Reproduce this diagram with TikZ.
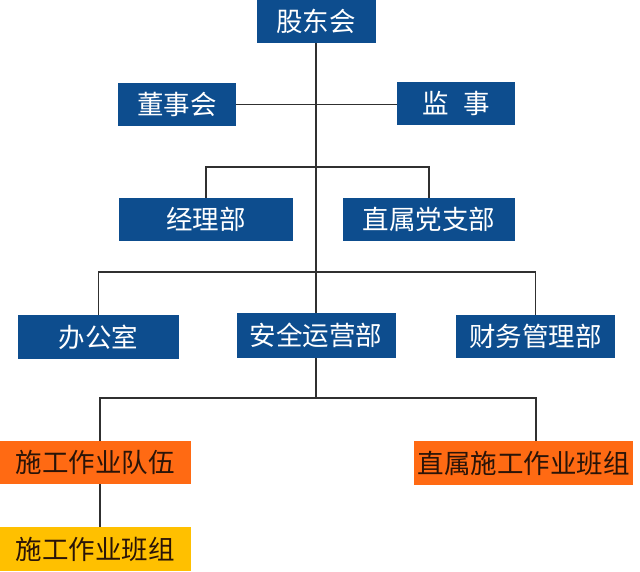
\documentclass[tikz,border=0pt]{standalone}
\usepackage{fontspec}
\newfontfamily\cjk{Noto Sans CJK SC}
\definecolor{boxblue}{HTML}{0D4D8E}
\definecolor{boxorange}{HTML}{FF6A13}
\definecolor{boxyellow}{HTML}{FFC000}
\definecolor{linegray}{HTML}{303030}
\definecolor{darktext}{HTML}{2A1408}
\begin{document}
\begin{tikzpicture}[x=1pt,y=-1pt,
  base/.style={rectangle,inner sep=0pt,minimum height=43pt,font=\cjk\fontsize{26.5}{26.5}\selectfont},
  bluebox/.style={base,fill=boxblue,text=white},
  orangebox/.style={base,fill=boxorange,text=darktext},
  yellowbox/.style={base,fill=boxyellow,text=darktext},
  conn/.style={draw=linegray,line width=1.1pt}]
\useasboundingbox (0,0) rectangle (640,571);
\fill[white] (0,0) rectangle (640,571);
\node[bluebox,minimum width=119pt] (gd) at (316,21.5) {股东会};
\node[bluebox,minimum width=118pt] (dsh) at (177,104.5) {董事会};
\node[bluebox,minimum width=118pt] (js) at (456,103.5) {监\hspace{0.55em}事};
\node[bluebox,minimum width=174pt] (jlb) at (206,219.5) {经理部};
\node[bluebox,minimum width=172pt] (dzb) at (429,219.5) {直属党支部};
\node[bluebox,minimum width=161pt,minimum height=44pt] (bgs) at (98.5,337) {办公室};
\node[bluebox,minimum width=159pt,minimum height=45pt] (aq) at (316,335.5) {安全运营部};
\node[bluebox,minimum width=159pt] (cw) at (535.5,336.5) {财务管理部};
\node[orangebox,minimum width=191pt] (sgdw) at (95.5,462.5) {施工作业队伍};
\node[orangebox,minimum width=219pt,minimum height=44pt] (zssg) at (523.5,463) {直属施工作业班组};
\node[yellowbox,minimum width=191pt,minimum height=44pt] (sgbz) at (95.5,549) {施工作业班组};
\coordinate (b1) at (316,167);
\coordinate (b2) at (316,272);
\coordinate (b3) at (316,398);
\draw[conn] (gd.south) -- (aq.north);
\draw[conn] (dsh.east) -- (dsh.east -| js.west);
\draw[conn] (b1) -| (jlb.north);
\draw[conn] (b1) -| (dzb.north);
\draw[conn] (b2) -| (bgs.north);
\draw[conn] (b2) -| (cw.north);
\draw[conn] (aq.south) -- (b3);
\draw[conn] (b3) -| ([xshift=4.5pt]sgdw.north);
\draw[conn] (b3) -| ([xshift=12.5pt]zssg.north);
\draw[conn] ([xshift=4.5pt]sgdw.south) -- ([xshift=4.5pt]sgbz.north);
\end{tikzpicture}
\end{document}
